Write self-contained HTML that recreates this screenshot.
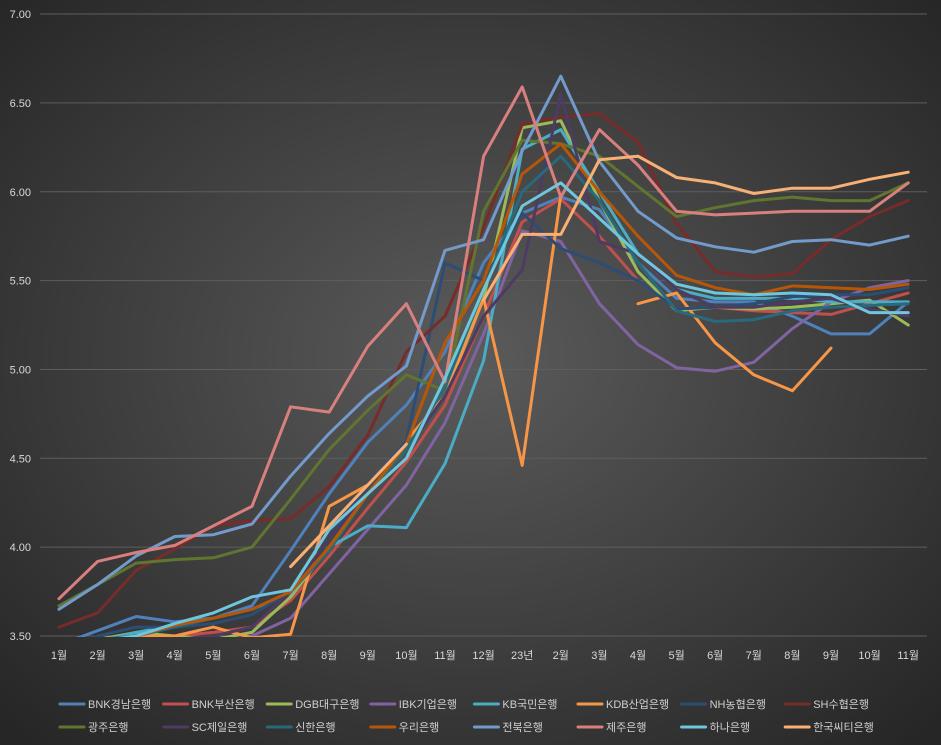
<!DOCTYPE html>
<html><head><meta charset="utf-8"><style>
html,body{margin:0;padding:0;width:941px;height:745px;overflow:hidden;background:#333}
svg{display:block;font-family:"Liberation Sans","Noto Sans CJK KR",sans-serif}
</style></head><body>
<svg id="chart" width="941" height="745" viewBox="0 0 941 745">
<defs>
<radialGradient id="bg" cx="50%" cy="48%" r="70%">
<stop offset="0" stop-color="#5b5b5b"/><stop offset="1" stop-color="#262626"/>
</radialGradient>
<clipPath id="plotclip"><rect x="40" y="0" width="900" height="637"/></clipPath>
</defs>
<rect width="941" height="745" fill="url(#bg)"/>
<g id="grid"></g><g id="yticks"></g><g id="xticks"></g>
<g id="series" clip-path="url(#plotclip)"></g>
<g id="legend"></g>
</svg>
<script>
const categories=["1월","2월","3월","4월","5월","6월","7월","8월","9월","10월","11월","12월","23년","2월","3월","4월","5월","6월","7월","8월","9월","10월","11월"];
const yTicks=[3.5,4.0,4.5,5.0,5.5,6.0,6.5,7.0];
const seriesNames=["BNK경남은행","BNK부산은행","DGB대구은행","IBK기업은행","KB국민은행","KDB산업은행","NH농협은행","SH수협은행","광주은행","SC제일은행","신한은행","우리은행","전북은행","제주은행","하나은행","한국씨티은행"];
const seriesColors=["#4f81bd","#c0504d","#9bbb59","#8064a2","#4bacc6","#f79646","#2c4d75","#772c2a","#5f7530","#4d3b62","#276a7c","#b65708","#729aca","#d9807e","#6fc6dd","#f9b074"];
const bnkGyeongnam=[3.45,3.53,3.61,3.58,3.6,3.67,3.98,4.3,4.59,4.8,5.1,5.6,5.88,5.97,5.9,5.6,5.4,5.38,5.38,5.3,5.2,5.2,5.38];
const bnkBusan=[3.4,3.45,3.5,3.5,3.52,3.55,3.7,3.95,4.22,4.48,4.8,5.3,5.83,5.96,5.75,5.5,5.34,5.35,5.33,5.32,5.31,5.37,5.43];
const dgb=[3.45,3.48,3.52,3.5,3.48,3.52,3.72,4.0,4.3,4.55,4.9,5.4,6.36,6.4,5.95,5.55,5.33,5.35,5.34,5.35,5.37,5.39,5.25];
const ibk=[3.3,3.35,3.4,3.42,3.45,3.5,3.6,3.85,4.1,4.35,4.7,5.2,5.78,5.72,5.37,5.14,5.01,4.99,5.04,5.23,5.38,5.46,5.5];
const kb=[3.45,3.47,3.52,3.56,3.6,3.65,3.74,4.0,4.12,4.11,4.47,5.05,6.24,6.35,6.0,5.65,5.45,5.4,5.4,5.4,5.38,5.38,5.38];
const kdb=[null,null,3.5,3.5,3.55,3.49,3.51,4.23,4.35,4.6,4.85,5.4,4.46,5.98,null,5.37,5.43,5.15,4.97,4.88,5.12,null,null];
const nh=[3.4,3.5,3.55,3.55,3.57,3.62,3.75,4.05,4.35,4.6,5.6,5.5,5.88,5.68,5.6,5.5,5.34,5.35,5.37,5.41,5.42,5.42,5.46];
const sh=[3.55,3.63,3.87,3.99,4.12,4.15,4.16,4.34,4.63,5.1,5.3,5.8,6.38,6.42,6.44,6.28,5.82,5.55,5.52,5.54,5.73,5.86,5.95];
const gwangju=[3.67,3.79,3.91,3.93,3.94,4.0,4.27,4.55,4.77,4.97,4.88,5.89,6.29,6.27,6.2,6.03,5.86,5.91,5.95,5.97,5.95,5.95,6.05];
const sc=[3.4,3.42,3.45,3.48,3.5,3.55,3.75,4.05,4.3,4.55,4.85,5.3,5.56,6.55,5.72,5.65,5.45,5.35,5.35,5.38,5.4,5.34,5.3];
const shinhan=[3.45,3.48,3.5,3.55,3.6,3.65,3.75,3.98,4.3,4.55,4.9,5.45,6.0,6.2,5.95,5.6,5.33,5.27,5.28,5.33,5.35,5.36,5.37];
const woori=[3.4,3.45,3.5,3.56,3.6,3.65,3.75,4.0,4.3,4.58,5.15,5.5,6.1,6.27,6.0,5.75,5.53,5.46,5.42,5.47,5.46,5.45,5.48];
const jeonbuk=[3.65,3.79,3.95,4.06,4.07,4.13,4.4,4.64,4.85,5.02,5.67,5.73,6.23,6.65,6.17,5.89,5.74,5.69,5.66,5.72,5.73,5.7,5.75];
const jeju=[3.71,3.92,3.97,4.01,4.12,4.23,4.79,4.76,5.13,5.37,4.93,6.2,6.59,5.97,6.35,6.15,5.89,5.87,5.88,5.89,5.89,5.89,6.05];
const hana=[3.45,3.47,3.5,3.57,3.63,3.72,3.76,4.1,4.3,4.5,4.95,5.45,5.92,6.05,5.85,5.65,5.48,5.43,5.42,5.43,5.42,5.32,5.32];
const citi=[null,null,null,null,null,null,3.89,4.12,4.35,4.58,null,5.39,5.76,5.76,6.18,6.2,6.08,6.05,5.99,6.02,6.02,6.07,6.11];
const allSeries=[bnkGyeongnam,bnkBusan,dgb,ibk,kb,kdb,nh,sh,gwangju,sc,shinhan,woori,jeonbuk,jeju,hana,citi];

const NS="http://www.w3.org/2000/svg";
const X=i=>59+i*38.6;
const Y=v=>636-(v-3.5)*177.7;
function mk(tag,attrs,parent){const e=document.createElementNS(NS,tag);for(const k in attrs)e.setAttribute(k,attrs[k]);parent.appendChild(e);return e;}
const grid=document.getElementById('grid'),yt=document.getElementById('yticks'),xt=document.getElementById('xticks'),sg=document.getElementById('series'),lg=document.getElementById('legend');
yTicks.forEach(t=>{
  const l=mk('line',{x1:40,x2:927,y1:Y(t),y2:Y(t),stroke:'#5e5e5e','stroke-width':1},grid);
  
  
  const tx=mk('text',{x:31,y:Y(t)+4,'text-anchor':'end','font-size':11,fill:'#d9d9d9'},yt);
  tx.textContent=t.toFixed(2);
  
  
});
categories.forEach((c,i)=>{
  const tx=mk('text',{x:X(i),y:659,'text-anchor':'middle','font-size':11,fill:'#d9d9d9'},xt);
  tx.textContent=c;
  
  
});
allSeries.forEach((data,s)=>{
  let d='',pen=false;
  data.forEach((v,i)=>{
    if(v===null){pen=false;return;}
    d+=(pen?'L':'M')+X(i).toFixed(1)+','+Y(v).toFixed(1);pen=true;
  });
  const p=mk('path',{d:d,fill:'none',stroke:seriesColors[s],'stroke-width':3,'stroke-linejoin':'round','stroke-linecap':'round'},sg);
  
  
  const row=Math.floor(s/8),col=s%8;
  const lx=60+col*103.6,ly=704+row*23;
  const g=mk('g',{},lg);
  
  
  mk('line',{x1:lx,x2:lx+24,y1:ly,y2:ly,stroke:seriesColors[s],'stroke-width':3,'stroke-linecap':'round'},g);
  const t=mk('text',{x:lx+28,y:ly+4,'font-size':11,fill:'#d0d0d0'},g);
  t.textContent=seriesNames[s];
});
</script>
</body></html>
